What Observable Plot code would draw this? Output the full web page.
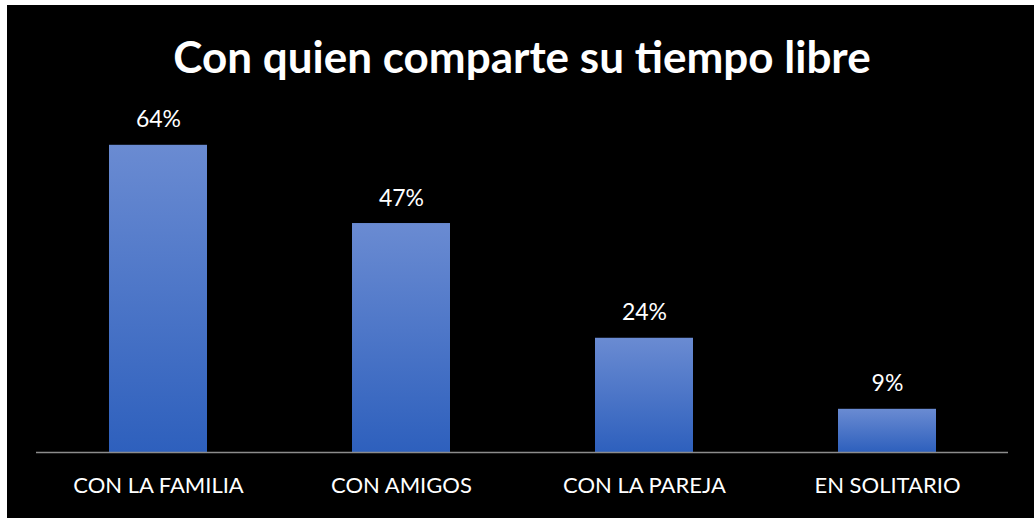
<!DOCTYPE html>
<html>
<head>
<meta charset="utf-8">
<script src="https://cdn.jsdelivr.net/npm/d3@7"></script>
<script src="https://cdn.jsdelivr.net/npm/@observablehq/plot@0.6"></script>
<style>
  html, body { margin: 0; padding: 0; background: #ffffff; width: 1034px; height: 518px; overflow: hidden; }
  #frame { position: absolute; left: 7px; top: 5px; width: 1027px; height: 513px; background: #000000; }
  #title { position: absolute; left: 0; top: 0; width: 1030px; height: 85px; text-align: center;
    font-family: Lato, "Open Sans", sans-serif; font-weight: bold; font-size: 44px; color: #ffffff; line-height: 1; padding-top: 29px; box-sizing: border-box; }
  #chart { position: absolute; left: 0; top: 85px; }
</style>
</head>
<body>
<div id="frame">
  <div id="title">Con quien comparte su tiempo libre</div>
  <div id="chart"></div>
</div>
<script>
const categories = ["CON LA FAMILIA", "CON AMIGOS", "CON LA PAREJA", "EN SOLITARIO"];
const values = [64, 47.7, 23.8, 9];
const valueLabels = ["64%", "47%", "24%", "9%"];

const data = categories.map((c, i) => ({ category: c, value: values[i], label: valueLabels[i] }));

const chart = Plot.plot({
  width: 1027,
  height: 428,
  marginLeft: 29,
  marginRight: 26,
  marginTop: 26,
  marginBottom: 66,
  style: { background: "transparent", color: "#ffffff", fontFamily: "Lato, 'Open Sans', sans-serif" },
  x: { domain: categories, paddingInner: 0.597, paddingOuter: 0.2985, label: null },
  y: { domain: [0, 70], axis: null },
  marks: [
    Plot.barY(data, { x: "category", y: "value", fill: "url(#barGrad)" }),
    Plot.ruleY([0], { stroke: "#8c8c8c", strokeWidth: 1.5 }),
    Plot.text(data, { x: "category", y: "value", text: "label", fill: "#ffffff", fontSize: 23, lineAnchor: "bottom", dy: -18 }),
    Plot.axisX({ tickSize: 0, tickPadding: 25, fontSize: 22, fill: "#ffffff", label: null })
  ]
});

const svg = d3.select(chart);
const defs = svg.insert("defs", ":first-child");
const grad = defs.append("linearGradient").attr("id", "barGrad").attr("x1", 0).attr("y1", 0).attr("x2", 0).attr("y2", 1);
grad.append("stop").attr("offset", "0%").attr("stop-color", "#6a8bd2");
grad.append("stop").attr("offset", "100%").attr("stop-color", "#2e60bd");

document.getElementById("chart").appendChild(chart);
</script>
</body>
</html>
